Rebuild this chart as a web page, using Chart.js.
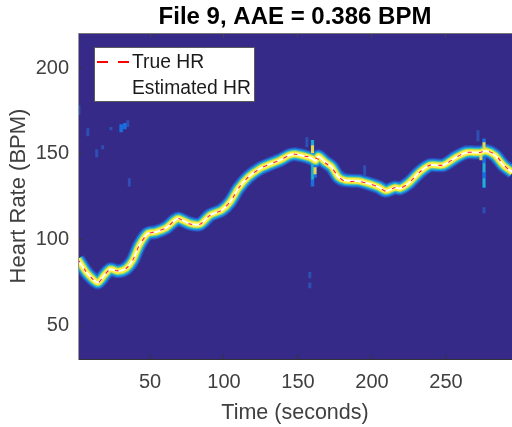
<!DOCTYPE html>
<html>
<head>
<meta charset="utf-8">
<style>html,body{margin:0;padding:0;background:#fff}#w{width:512px;height:427px}</style>
<script src="https://cdn.jsdelivr.net/npm/chart.js@4"></script>
</head>
<body>
<div id="w"><canvas id="c"></canvas></div>
<script>
const xTicks = [50,100,150,200,250];
const yTicks = [50,100,150,200];
const timeSec = [1.2,2.2,6.8,10.1,14.7,19.1,23.2,28.2,33.8,38.3,42.8,48.4,54.1,60.8,66.9,69.1,77,83.8,90.5,98.4,104.1,109.7,116.4,124.3,131.1,137.8,144.1,148,154.7,159.3,162,163.7,168.2,172.8,177.2,181.8,190.8,197.5,204.3,209.5,215.6,218.9,224.5,232.4,239.2,248.2,257.2,264,273,277,283,288.7,295];
const estimatedHR = [88.5,87.3,81.1,78,74.9,79.2,82.7,81.5,83.1,87.9,96.7,103.5,104.4,106.8,111.3,112.3,109.3,108.9,114.2,117.1,121.9,129.8,136.5,141.4,144,146.3,149.2,149.8,148.6,147.3,145.9,148.6,145.3,142.4,136.5,134.6,134.2,132.7,130.7,128.4,130.4,129.8,132.7,139.5,143.4,143.4,148.2,150.8,150.8,151.7,149.2,143.4,139.2];
const trueHR = [88.5,87.3,81.3,78,74.6,79.2,82.7,81.7,83.1,87.9,96.7,103.3,104.6,106.8,111.3,112.3,109.1,108.9,114.2,117.1,121.9,129.8,136.5,141.4,144,146.3,149.2,149.8,148.6,148.2,147.6,146.8,144.8,141.8,136.9,133.9,134,132.7,130.7,128.2,130.4,129.8,132.7,139.5,143.4,143.4,148.2,150.8,150.8,152,149.6,143.8,138.6];
// artifacts: time, upper HR, lower HR
const artifactsDim = [[2,178.4,172.6],[8,165,160.3],[14,152.7,148],[18,155,152.7],[23.6,165.6,163.8],[35,169.6,165.6],[36,135.8,131],[156,159.7,153.9],[180.4,139.9,136.4],[195,143.4,136.4],[271.6,163.8,157.4],[263.5,155,152],[267.6,155,152],[275.7,118.9,115.4],[158,81,77.4],[158,75,71.6]];
const artifactsBlue = [[30.5,167.3,162.6],[33,168,164.4],[159.8,158,131],[161.5,146,136],[275.7,159,130]];
const artifactsCyan = [[159.8,144.5,135],[159.8,158,155],[275.7,144.5,139.3],[275.7,135.8,130.5],[170.3,147,142]];
const artifactsYellow = [[159.8,155,150.4],[161.5,142.2,138.1],[275.7,156.8,153.3],[273.6,149.2,146.3]];

const seriesPts = ys => timeSec.map((t,i)=>({x:t,y:ys[i]}));
const segPts = a => a.flatMap(r=>[{x:r[0],y:r[1]},{x:r[0],y:r[2]},{x:r[0],y:null}]);
const band = (w,col)=>({data:seriesPts(estimatedHR),borderColor:col,borderWidth:w,pointRadius:0,borderJoinStyle:'round',borderCapStyle:'butt',tension:0.25});
const seg = (a,w,col)=>({data:segPts(a),borderColor:col,borderWidth:w,pointRadius:0,spanGaps:false,borderCapStyle:'butt'});

const frame = {
  id:'frame',
  beforeDatasetsDraw(ch){
    const a=ch.chartArea,g=ch.ctx;
    g.save();g.fillStyle='#352a87';g.fillRect(a.left,a.top,a.width,a.height);g.restore();
  },
  afterDraw(ch){
    const g=ch.ctx;
    const bx=94,by=47,bw=161,bh=55;
    g.save();
    g.fillStyle='#fff';g.fillRect(bx,by,bw,bh);
    g.strokeStyle='#5a5a5a';g.lineWidth=1;g.strokeRect(bx+.5,by+.5,bw-1,bh-1);
    g.strokeStyle='#ff0000';g.lineWidth=2;g.setLineDash([11,10]);
    g.beginPath();g.moveTo(97,62);g.lineTo(129,62);g.stroke();g.setLineDash([]);
    g.fillStyle='#1a1a1a';g.font='19.3px "Liberation Sans"';g.textBaseline='middle';
    g.fillText(ch.data.datasets[0].label,132,63);
    g.fillText(ch.data.datasets[1].label,132,89);
    g.restore();
  }
};

new Chart(document.getElementById('c'),{
  type:'line',
  plugins:[frame],
  data:{datasets:[
    {label:'True HR',data:seriesPts(trueHR),borderColor:'#ff2020',borderWidth:1.1,borderDash:[4,7],pointRadius:0,tension:0.25},
    {label:'Estimated HR',data:seriesPts(estimatedHR),borderColor:'#ffffff',borderWidth:2,pointRadius:0,tension:0.25},
    band(5.5,'#fdf03c'),
    seg(artifactsYellow,3,'#e8d848'),
    band(7.2,'#a6d25e'),
    seg(artifactsCyan,2.5,'#25b0c8'),
    band(9,'#2fc0c0'),
    seg(artifactsBlue,3.5,'#1a6fe0'),
    band(11.5,'#1f86e0'),
    band(14,'#2a50bc'),
    seg(artifactsDim,3,'#2e4fb4'),
  ]},
  options:{
    responsive:true,maintainAspectRatio:false,animation:false,
    layout:{padding:0},
    plugins:{
      legend:{display:false},tooltip:{enabled:false},
      title:{display:true,text:'File 9, AAE = 0.386 BPM',fullSize:false,color:'#000',
        font:{family:'"Liberation Sans"',size:24,weight:'bold'},padding:{top:3,bottom:1.2}}
    },
    scales:{
      x:{type:'linear',position:'bottom',min:1.35,max:294.6,
        afterBuildTicks:s=>{s.ticks=xTicks.map(v=>({value:v}))},
        afterFit:s=>{s.height=68},
        grid:{drawOnChartArea:false,tickLength:-4,tickColor:'#333',z:1},
        border:{color:'#333',width:1,z:2},
        ticks:{color:'#404040',padding:15,maxRotation:0,autoSkip:false,font:{family:'"Liberation Sans"',size:20}},
        title:{display:true,text:'Time (seconds)',color:'#404040',font:{family:'"Liberation Sans"',size:21.5},padding:{top:0,bottom:1}}
      },
      xTop:{type:'linear',position:'top',min:1.35,max:294.6,
        afterBuildTicks:s=>{s.ticks=xTicks.map(v=>({value:v}))},
        afterFit:s=>{s.height=0},
        grid:{drawOnChartArea:false,tickLength:-4,tickColor:'#444',z:1},
        border:{color:'#777',width:1,z:2},
        ticks:{display:false}
      },
      y:{type:'linear',position:'left',min:30.3,max:220.5,
        afterBuildTicks:s=>{s.ticks=yTicks.map(v=>({value:v}))},
        afterFit:s=>{s.width=78},
        grid:{drawOnChartArea:false,tickLength:-4,tickColor:'#333',z:1},
        border:{color:'#999',width:1,z:2},
        ticks:{color:'#404040',padding:13,autoSkip:false,font:{family:'"Liberation Sans"',size:20}},
        title:{display:true,text:'Heart Rate (BPM)',color:'#404040',font:{family:'"Liberation Sans"',size:22},padding:{top:6,bottom:0}}
      }
    }
  }
});
</script>
</body>
</html>
